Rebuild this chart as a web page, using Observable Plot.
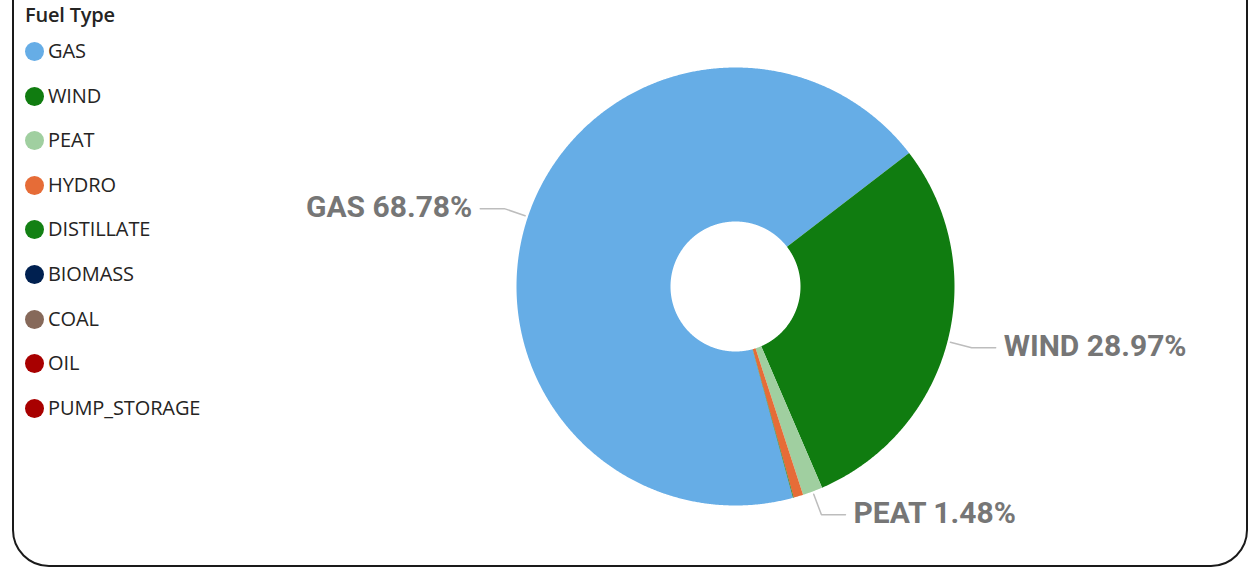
<!DOCTYPE html>
<html>
<head>
<meta charset="utf-8">
<script src="https://cdn.jsdelivr.net/npm/d3@7"></script>
<script src="https://cdn.jsdelivr.net/npm/@observablehq/plot@0.6"></script>
<style>
  html, body { margin: 0; padding: 0; background: #fff; overflow: hidden; }
  #wrap { position: relative; width: 1251px; height: 568px; overflow: hidden; }
  #frame { position: absolute; left: 12px; top: -60px; width: 1236px; height: 627px;
           border: 2px solid #1a1a1a; border-radius: 37px; box-sizing: border-box; }
  #chart { position: absolute; left: 0; top: 0; }
  #legend { position: absolute; left: 25px; top: 2px; font-family: "Open Sans", "Noto Sans", sans-serif; color: #252423; }
  #legend .title { font-weight: 600; font-size: 20px; height: 26px; line-height: 26px; letter-spacing: -0.2px; }
  #legend .item { position: absolute; left: 0; white-space: nowrap; font-size: 20px; line-height: 22px; height: 22px; }
  #legend .sw { position: absolute; left: 0; top: 2px; width: 19px; height: 19px; border-radius: 50%; }
  #legend .lab { position: absolute; left: 23px; top: 0; letter-spacing: -0.1px; }
</style>
</head>
<body>
<div id="wrap">
  <div id="frame"></div>
  <div id="chart"></div>
  <div id="legend"></div>
</div>
<script>
// ---- data ----
const fuels = ["GAS", "WIND", "PEAT", "HYDRO", "DISTILLATE", "BIOMASS", "COAL", "OIL", "PUMP_STORAGE"];
const shares = [68.78, 28.97, 1.48, 0.71, 0.05, 0.003, 0.002, 0.002, 0.001];
const colors = ["#66ADE6", "#107C10", "#A0CFA0", "#E66C37", "#138014", "#002050", "#86695A", "#A80000", "#A80000"];
const labelled = ["GAS", "WIND", "PEAT"];
const legendTitle = "Fuel Type";

// ---- layout ----
const W = 1251, H = 568;
const cx = 735, cy = 286;          // pixel centre of donut
const R = 219;                     // outer radius px
const innerFrac = 65 / 219;        // inner radius as fraction of outer
const startDeg = 164.8;            // clockwise from 12 o'clock

const total = d3.sum(shares);
const pie = d3.pie().sort(null).value(d => d.share)
  .startAngle(startDeg * Math.PI / 180).endAngle(startDeg * Math.PI / 180 + 2 * Math.PI);
const arcs = pie(fuels.map((f, i) => ({fuel: f, share: shares[i]})));

// polygon points for every slice (unit radius space, y up)
const pts = [];
arcs.forEach(a => {
  const n = Math.max(2, Math.ceil((a.endAngle - a.startAngle) / 0.005));
  for (let k = 0; k <= n; k++) {
    const t = a.startAngle + (a.endAngle - a.startAngle) * k / n;
    pts.push({fuel: a.data.fuel, x: Math.sin(t), y: Math.cos(t)});
  }
  for (let k = n; k >= 0; k--) {
    const t = a.startAngle + (a.endAngle - a.startAngle) * k / n;
    pts.push({fuel: a.data.fuel, x: innerFrac * Math.sin(t), y: innerFrac * Math.cos(t)});
  }
});

// leader lines and labels
const leaders = [], labels = [];
arcs.filter(a => labelled.includes(a.data.fuel)).forEach(a => {
  const m = (a.startAngle + a.endAngle) / 2;
  const s = Math.sin(m), c = Math.cos(m);
  const r1 = 1 + 3 / R, r2 = 1 + 25 / R;
  const side = s >= 0 ? 1 : -1;
  const p1 = {x: r1 * s, y: r1 * c}, p2 = {x: r2 * s, y: r2 * c};
  const p3 = {x: p2.x + side * 24 / R, y: p2.y};
  [p1, p2, p3].forEach(p => leaders.push({fuel: a.data.fuel, ...p}));
  labels.push({x: p3.x + side * 8 / R, y: p3.y, side,
    text: `${a.data.fuel} ${(a.data.share / total * 100).toFixed(2)}%`});
});

const labelStyle = {x: "x", y: "y", text: "text", fill: "#767676", fontSize: 30, fontWeight: 700,
  fontFamily: "Roboto", dy: -1, letterSpacing: -0.8};

const plot = Plot.plot({
  width: W, height: H,
  margin: 0,
  x: {domain: [-cx / R, (W - cx) / R], range: [0, W], axis: null},
  y: {domain: [(cy - H) / R, cy / R], range: [H, 0], axis: null},
  color: {domain: fuels, range: colors},
  style: {background: "transparent"},
  marks: [
    Plot.line(pts, {x: "x", y: "y", z: "fuel", fill: "fuel", stroke: null, curve: "linear-closed"}),
    Plot.line(leaders, {x: "x", y: "y", z: "fuel", stroke: "#BDBDBD", strokeWidth: 1.5}),
    Plot.text(labels.filter(d => d.side < 0), {...labelStyle, textAnchor: "end"}),
    Plot.text(labels.filter(d => d.side > 0), {...labelStyle, textAnchor: "start"})
  ]
});
document.getElementById("chart").appendChild(plot);

// legend
const lg = document.getElementById("legend");
const t = document.createElement("div");
t.className = "title"; t.textContent = legendTitle; lg.appendChild(t);
fuels.forEach((f, i) => {
  const it = document.createElement("div");
  it.className = "item";
  it.style.top = (38 + i * 44.6) + "px";
  const sw = document.createElement("div"); sw.className = "sw"; sw.style.background = colors[i];
  const lb = document.createElement("div"); lb.className = "lab"; lb.textContent = f;
  it.appendChild(sw); it.appendChild(lb); lg.appendChild(it);
});
</script>
</body>
</html>
